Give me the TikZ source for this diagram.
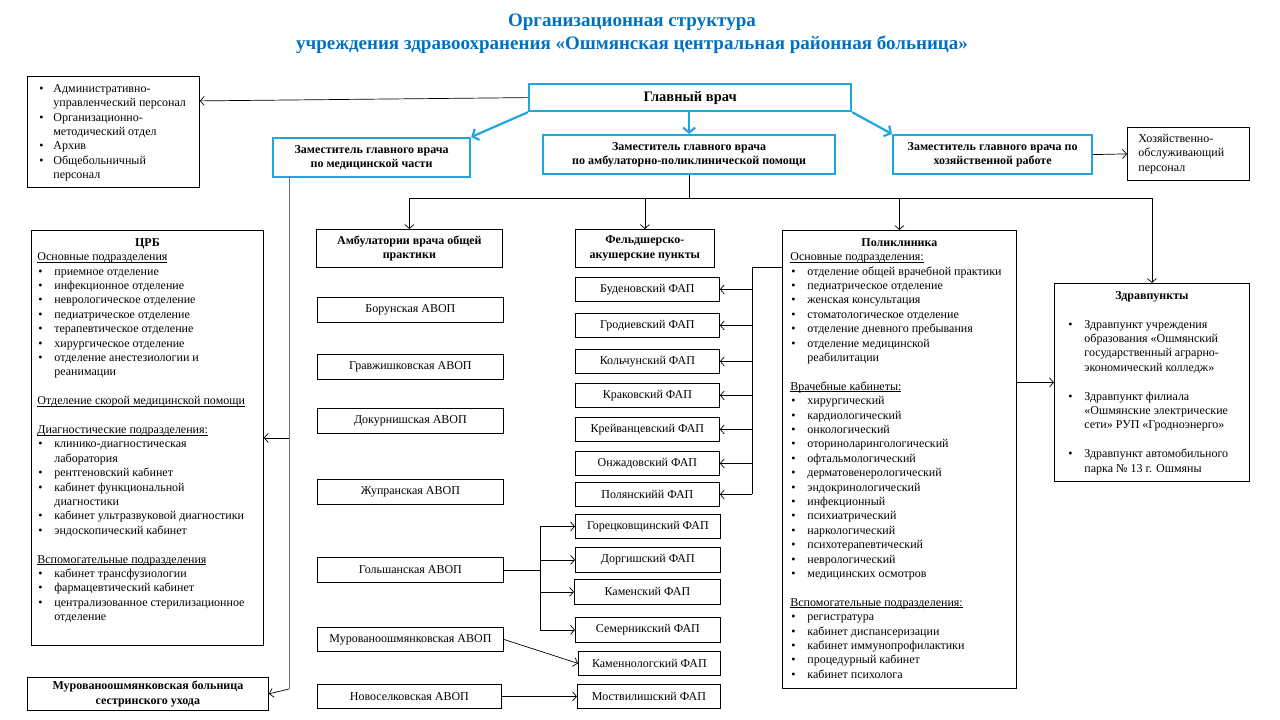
\documentclass[tikz,border=0pt]{standalone}
\usepackage{fontspec}
\setmainfont{Liberation Serif}
\usetikzlibrary{arrows.meta}
\definecolor{titleblue}{RGB}{0,112,192}
\definecolor{headcyan}{RGB}{32,167,222}
\newcommand{\bul}[2][17pt]{\par\noindent\hangindent=#1\hangafter=1\makebox[#1][l]{\hspace{1pt}\textbullet}#2}
\newcommand{\gap}{\par\vspace{14.4pt}}
\newcommand{\hd}[1]{\par\noindent\setbox0\hbox{#1}\rlap{\rule[-1.6pt]{\wd0}{0.5pt}}\box0}
\newcommand{\bodyfont}{\fontsize{12}{14.4}\selectfont}
\begin{document}
\begin{tikzpicture}[x=1pt,y=1pt]
    \tikzstyle{every node}+=[inner sep=0pt, font=\bodyfont]
    \tikzstyle{box}=[draw=black, line width=0.8pt, anchor=north west, align=center]
    \tikzstyle{chief}=[draw=headcyan, line width=2.2pt, anchor=north west, align=center, font=\bodyfont\bfseries]
    \tikzstyle{link}=[black, line width=0.7pt, -{Straight Barb[length=4pt,width=9pt]}]
    \tikzstyle{clink}=[headcyan, line width=2.2pt, -{Straight Barb[length=5pt,width=12pt]}]
    \useasboundingbox (0,0) rectangle (1280,-720);
    % title
    \node [titleblue, align=center, font=\fontsize{19}{23}\selectfont\bfseries] (title) at (632,-34)
        {Организационная структура\\учреждения здравоохранения «Ошмянская центральная районная больница»};
    % top level
    \node [chief, minimum width=322, minimum height=27, font=\fontsize{14.5}{16}\selectfont\bfseries] (glav) at (528,-83) {Главный врач};
    \node [chief, minimum width=197, minimum height=39] (med) at (272,-137) {Заместитель главного врача\\по медицинской части};
    \node [chief, minimum width=292, minimum height=39] (amb) at (542,-134) {Заместитель главного врача\\по амбулаторно-поликлинической помощи};
    \node [chief, minimum width=199, minimum height=39] (hoz) at (892,-134) {Заместитель главного врача по\\хозяйственной работе};
    \node [box, text width=100, minimum height=53, align=left, inner xsep=11pt] (hozp) at (1127,-127) {Хозяйственно-\\обслуживающий\\персонал};
    \node [box, inner xsep=11pt, inner ysep=8pt] (adm) at (27,-76) {\begin{minipage}[c][95pt][t]{150pt}\bodyfont\raggedright
        \bul[15pt]{Административно-\newline управленческий персонал}
        \bul[15pt]{Организационно-\newline методический отдел}
        \bul[15pt]{Архив}
        \bul[15pt]{Общебольничный\newline персонал}
        \end{minipage}};
    % hospital
    \node [box, inner xsep=6pt, inner ysep=8pt] (crb) at (31,-230) {\begin{minipage}[c][399pt][t]{220pt}\bodyfont\raggedright
        \centerline{\bfseries ЦРБ}
        \hd{Основные подразделения}
        \bul{приемное отделение}
        \bul{инфекционное отделение}
        \bul{неврологическое отделение}
        \bul{педиатрическое отделение}
        \bul{терапевтическое отделение}
        \bul{хирургическое отделение}
        \bul{отделение анестезиологии и\newline реанимации}
        \gap
        \hd{Отделение скорой медицинской помощи}
        \gap
        \hd{Диагностические подразделения:}
        \bul{клинико-диагностическая\newline лаборатория}
        \bul{рентгеновский кабинет}
        \bul{кабинет функциональной\newline диагностики}
        \bul{кабинет ультразвуковой диагностики}
        \bul{эндоскопический кабинет}
        \gap
        \hd{Вспомогательные подразделения}
        \bul{кабинет трансфузиологии}
        \bul{фармацевтический кабинет}
        \bul{централизованное стерилизационное\newline отделение}
        \end{minipage}};
    \node [box, minimum width=241, minimum height=33, font=\bodyfont\bfseries] (murb) at (27,-677) {Мурованоошмянковская больница\\сестринского ухода};
    % ambulatories
    \node [box, minimum width=186, minimum height=38, font=\bodyfont\bfseries] (avop) at (316,-229) {Амбулатории врача общей\\практики};
    \node [box, minimum width=186, minimum height=25] (borun) at (317,-297) {Борунская АВОП};
    \node [box, minimum width=186, minimum height=25] (gravzh) at (317,-354) {Гравжишковская АВОП};
    \node [box, minimum width=186, minimum height=25] (dokur) at (317,-408) {Докурнишская АВОП};
    \node [box, minimum width=186, minimum height=25] (zhupr) at (317,-479) {Жупранская АВОП};
    \node [box, minimum width=186, minimum height=25] (golsh) at (317,-557) {Гольшанская АВОП};
    \node [box, minimum width=186, minimum height=24] (murav) at (317,-627) {Мурованоошмянковская АВОП};
    \node [box, minimum width=184, minimum height=24] (novos) at (317,-684) {Новоселковская АВОП};
    % feldsher points
    \node [box, minimum width=139, minimum height=38, font=\bodyfont\bfseries] (fap) at (575,-229) {Фельдшерско-\\акушерские пункты};
    \node [box, minimum width=144, minimum height=24] (buden) at (575,-277) {Буденовский ФАП};
    \node [box, minimum width=144, minimum height=24] (grod) at (575,-313) {Гродиевский ФАП};
    \node [box, minimum width=144, minimum height=24] (kolch) at (575,-349) {Кольчунский ФАП};
    \node [box, minimum width=144, minimum height=24] (krak) at (575,-383) {Краковский ФАП};
    \node [box, minimum width=144, minimum height=24] (kreiv) at (575,-417) {Крейванцевский ФАП};
    \node [box, minimum width=144, minimum height=24] (onzh) at (575,-451) {Онжадовский ФАП};
    \node [box, minimum width=144, minimum height=24] (polyan) at (575,-482) {Полянскийй ФАП};
    \node [box, minimum width=145, minimum height=24] (gorec) at (575,-514) {Горецковщинский ФАП};
    \node [box, minimum width=145, minimum height=25] (dorg) at (575,-547) {Доргишский ФАП};
    \node [box, minimum width=146, minimum height=25] (kamen) at (574,-579) {Каменский ФАП};
    \node [box, minimum width=145, minimum height=25] (semer) at (575,-617) {Семерникский ФАП};
    \node [box, minimum width=142, minimum height=24] (kamnol) at (578,-651) {Каменнологский ФАП};
    \node [box, minimum width=143, minimum height=24] (mostv) at (577,-684) {Моствилишский ФАП};
    % polyclinic
    \node [box, inner xsep=8pt, inner ysep=8pt] (polik) at (782,-230) {\begin{minipage}[c][442pt][t]{218pt}\bodyfont\raggedright
        \centerline{\bfseries Поликлиника}
        \hd{Основные подразделения:}
        \bul{отделение общей врачебной практики}
        \bul{педиатрическое отделение}
        \bul{женская консультация}
        \bul{стоматологическое отделение}
        \bul{отделение дневного пребывания}
        \bul{отделение медицинской\newline реабилитации}
        \gap
        \hd{Врачебные кабинеты:}
        \bul{хирургический}
        \bul{кардиологический}
        \bul{онкологический}
        \bul{оториноларингологический}
        \bul{офтальмологический}
        \bul{дерматовенерологический}
        \bul{эндокринологический}
        \bul{инфекционный}
        \bul{психиатрический}
        \bul{наркологический}
        \bul{психотерапевтический}
        \bul{неврологический}
        \bul{медицинских осмотров}
        \gap
        \hd{Вспомогательные подразделения:}
        \bul{регистратура}
        \bul{кабинет диспансеризации}
        \bul{кабинет иммунопрофилактики}
        \bul{процедурный кабинет}
        \bul{кабинет психолога}
        \end{minipage}};
    \node [box, inner xsep=13pt, inner ysep=8pt] (zdrav) at (1054,-283) {\begin{minipage}[c][182pt][t]{169pt}\bodyfont\raggedright
        \centerline{\bfseries Здравпункты}
        \gap
        \bul{Здравпункт учреждения\newline образования «Ошмянский\newline государственный аграрно-\newline экономический колледж»}
        \gap
        \bul{Здравпункт филиала\newline «Ошмянские электрические\newline сети» РУП «Гродноэнерго»}
        \gap
        \bul{Здравпункт автомобильного\newline парка № 13 г. Ошмяны}
        \end{minipage}};
    % chief connectors
    \draw [link] (glav.west) -- ([yshift=31pt]adm.east);
    \draw [clink] (glav.south west) -- (med.north east);
    \draw [clink] (amb.north |- glav.south) -- (amb.north);
    \draw [clink] (glav.south east) -- (hoz.north west);
    \draw [link] (hoz.east) -- (hozp.west);
    % deputy for ambulatory care
    \coordinate (bus) at ([yshift=-23pt]amb.south);
    \draw [black, line width=0.7pt] (amb.south) -- (bus);
    \draw [link] (bus) -| (avop.north);
    \draw [link] (bus) -| (fap.north);
    \draw [link] (bus) -| (polik.north);
    \draw [link] (bus) -| (zdrav.north);
    % deputy for medical part
    \coordinate (mtop) at (289,-176);
    \coordinate (mbot) at (289,-689);
    \draw [black!55, line width=1pt] (mtop) -- (mbot);
    \draw [link] (mtop |- crb.east) -- (crb.east);
    \draw [link] (mbot) -- (murb.east);
    % polyclinic to feldsher points
    \coordinate (pk) at (752,-267);
    \draw [black, line width=0.7pt] (polik.west |- pk) -- (pk) -- (pk |- polyan.east);
    \draw [link] (pk |- buden.east) -- (buden.east);
    \draw [link] (pk |- grod.east) -- (grod.east);
    \draw [link] (pk |- kolch.east) -- (kolch.east);
    \draw [link] (pk |- krak.east) -- (krak.east);
    \draw [link] (pk |- kreiv.east) -- (kreiv.east);
    \draw [link] (pk |- onzh.east) -- (onzh.east);
    \draw [link] (pk |- polyan.east) -- (polyan.east);
    \draw [link] (polik.east |- zdrav.west) -- (zdrav.west);
    % ambulatories to feldsher points
    \coordinate (gk) at (540,-569);
    \draw [black, line width=0.7pt] (golsh.east) -- (golsh.east -| gk);
    \draw [black, line width=0.7pt] (gk |- gorec.west) -- (gk |- semer.west);
    \draw [link] (gk |- gorec.west) -- (gorec.west);
    \draw [link] (gk |- dorg.west) -- (dorg.west);
    \draw [link] (gk |- kamen.west) -- (kamen.west);
    \draw [link] (gk |- semer.west) -- (semer.west);
    \draw [link] (murav.east) -- (kamnol.west);
    \draw [link] (novos.east) -- (novos.east -| mostv.west);
\end{tikzpicture}
\end{document}
